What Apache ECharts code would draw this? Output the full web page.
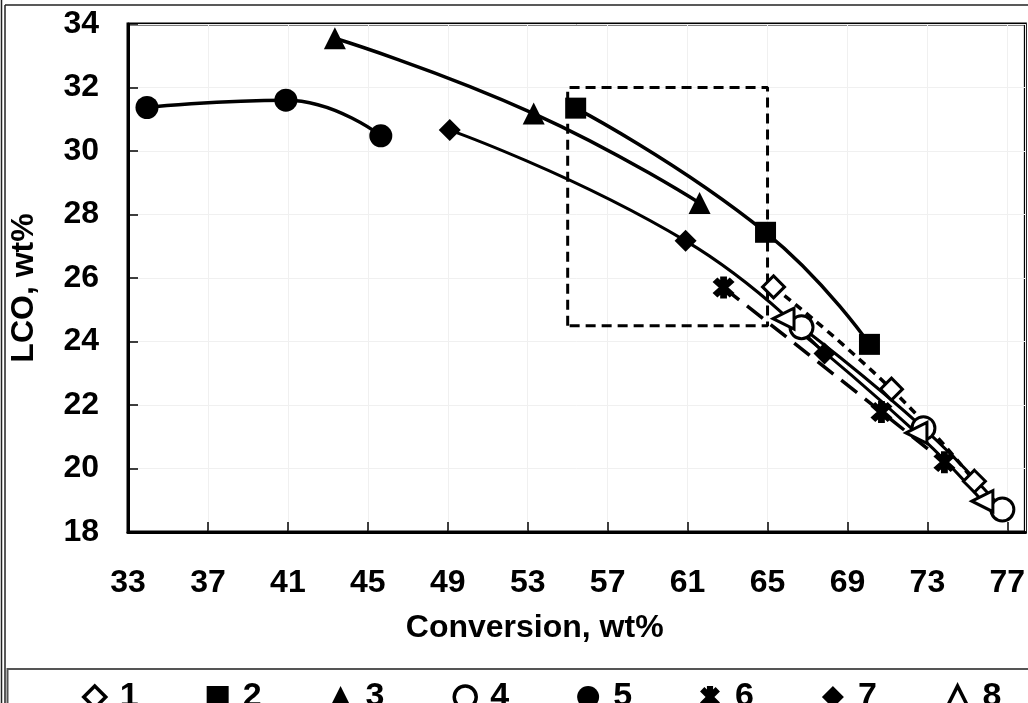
<!DOCTYPE html>
<html>
<head>
<meta charset="utf-8">
<script src="https://cdn.jsdelivr.net/npm/echarts@6/dist/echarts.min.js"></script>
<style>
  html, body { margin: 0; padding: 0; background: #fff; }
  #chart { width: 1028px; height: 703px; }
</style>
</head>
<body>
<div id="chart"></div>
<script>
// tick labels
const xTicks = [33, 37, 41, 45, 49, 53, 57, 61, 65, 69, 73, 77]
const yTicks = [18, 20, 22, 24, 26, 28, 30, 32, 34]

// series values [conversion, LCO]
const seriesNames = ['1', '2', '3', '4', '5', '6', '7', '8']
const s1 = [[65.3, 25.72], [71.2, 22.5], [75.35, 19.6]]
const s2 = [[55.4, 31.35], [64.9, 27.44], [70.1, 23.91]]
const s3 = [[43.35, 33.55], [53.3, 31.18], [61.6, 28.36]]
const s4 = [[66.7, 24.45], [72.8, 21.27], [76.75, 18.71]]
const s5 = [[33.95, 31.37], [40.9, 31.6], [45.65, 30.48]]
const s6 = [[62.8, 25.7], [70.7, 21.78], [73.85, 20.2]]
const s7 = [[49.1, 30.66], [60.9, 27.17], [67.85, 23.62]]
const s8 = [[65.8, 24.72], [72.45, 21.12], [75.75, 18.97]]
const seriesValues = [s1, s2, s3, s4, s5, s6, s7, s8]

// dashed frame corners
const boxCorners = [[55, 24.5], [55, 32], [65, 32], [65, 24.5], [55, 24.5]]

const FONT = "'Liberation Sans', Arial, sans-serif"
const STAR = 'path://M-2.8,-10L2.8,-10L2.8,10L-2.8,10Z' +
  'M5.09,9.05L-9.05,-5.09L-5.09,-9.05L9.05,5.09Z' +
  'M-5.09,9.05L-9.05,5.09L5.09,-9.05L9.05,-5.09Z'

// marker / line look per series
const looks = [
  { symbol: 'diamond', size: 22, fill: '#fff', dash: [8, 6], width: 3.5 },
  { symbol: 'rect', size: 21, fill: '#000', dash: 'solid', width: 3.5 },
  { symbol: 'triangle', size: 22, fill: '#000', dash: 'solid', width: 3.5 },
  { symbol: 'circle', size: 23, fill: '#fff', dash: 'solid', width: 3 },
  { symbol: 'circle', size: 23, fill: '#000', dash: 'solid', width: 3.5 },
  { symbol: STAR, size: 22, fill: '#000', dash: [20, 10], width: 3.5 },
  { symbol: 'diamond', size: 22, fill: '#000', dash: 'solid', width: 3 },
  { symbol: 'triangle', size: 21, fill: '#fff', dash: 'solid', width: 3, rotate: 90 }
]

const chart = echarts.init(document.getElementById('chart'))

const series = seriesNames.map((name, i) => {
  const lk = looks[i]
  const open = lk.fill === '#fff'
  return {
    name,
    type: 'line',
    data: seriesValues[i],
    smooth: 0.5,
    symbol: lk.symbol,
    symbolSize: lk.size,
    symbolRotate: lk.rotate || 0,
    showAllSymbol: true,
    lineStyle: { color: '#000', width: lk.width, type: lk.dash },
    itemStyle: {
      color: lk.fill,
      borderColor: '#000',
      borderWidth: open ? 3 : 0,
      opacity: 1
    },
    emphasis: { disabled: true },
    z: open ? 4 : 3
  }
})

series.push({
  name: 'box',
  type: 'line',
  data: boxCorners,
  symbol: 'none',
  silent: true,
  lineStyle: { color: '#000', width: 3, type: [10, 6] },
  z: 2
})

const legendData = seriesNames.map((name, i) => {
  const lk = looks[i]
  const open = lk.fill === '#fff'
  return {
    name,
    icon: lk.symbol,
    itemStyle: {
      color: lk.fill,
      borderColor: '#000',
      borderWidth: open ? 3.5 : 0
    }
  }
})

const option = {
  animation: false,
  backgroundColor: '#fff',
  grid: {
    left: 120,
    right: 2,
    top: 24,
    bottom: 171,
    show: true,
    borderColor: '#000',
    borderWidth: 3,
    containLabel: false
  },
  legend: {
    data: legendData,
    left: 77,
    top: 675,
    itemWidth: 22,
    itemHeight: 22,
    itemGap: 68,
    selectedMode: false,
    textStyle: {
      fontFamily: FONT, fontWeight: 'bold', fontSize: 34, color: '#000',
      padding: [0, 0, 0, 9]
    }
  },
  xAxis: {
    type: 'value',
    min: 33,
    max: 77.9,
    interval: 4,
    name: 'Conversion, wt%',
    nameLocation: 'middle',
    nameGap: 80,
    nameTextStyle: {
      fontFamily: FONT, fontWeight: 'bold', fontSize: 32, color: '#000',
      padding: [0, 84, 0, 0]
    },
    axisLine: { show: true, lineStyle: { color: '#000', width: 3 } },
    axisTick: { show: true, inside: true, length: 10, lineStyle: { color: '#000', width: 1.5 } },
    splitLine: { show: true, lineStyle: { color: '#f0f0f0', width: 1 } },
    axisLabel: {
      margin: 35,
      fontFamily: FONT, fontWeight: 'bold', fontSize: 32, color: '#000',
      showMaxLabel: false,
      formatter: v => (xTicks.indexOf(v) >= 0 ? String(v) : '')
    }
  },
  yAxis: {
    type: 'value',
    min: 18,
    max: 34,
    interval: 2,
    name: 'LCO, wt%',
    nameLocation: 'middle',
    nameGap: 88,
    nameTextStyle: {
      fontFamily: FONT, fontWeight: 'bold', fontSize: 32, color: '#000',
      padding: [0, 20, 0, 0]
    },
    axisLine: { show: true, lineStyle: { color: '#000', width: 3 } },
    axisTick: { show: true, inside: true, length: 10, lineStyle: { color: '#000', width: 1.5 } },
    splitLine: { show: true, lineStyle: { color: '#f0f0f0', width: 1 } },
    axisLabel: {
      margin: 29,
      fontFamily: FONT, fontWeight: 'bold', fontSize: 32, color: '#000',
      formatter: v => (yTicks.indexOf(v) >= 0 ? String(v) : '')
    }
  },
  graphic: [
    { type: 'line', shape: { x1: 1.5, y1: 0, x2: 1.5, y2: 703 }, style: { stroke: '#222', lineWidth: 1.5 }, silent: true },
    { type: 'line', shape: { x1: 5, y1: 5, x2: 5, y2: 703 }, style: { stroke: '#222', lineWidth: 1.5 }, silent: true },
    { type: 'line', shape: { x1: 5, y1: 5, x2: 1028, y2: 5 }, style: { stroke: '#222', lineWidth: 1.5 }, silent: true },
    { type: 'rect', shape: { x: 7.5, y: 669, width: 1030, height: 60 }, style: { fill: 'none', stroke: '#555', lineWidth: 2 }, silent: true }
  ],
  series
}

chart.setOption(option)
window.addEventListener('resize', () => chart.resize())
</script>
</body>
</html>
